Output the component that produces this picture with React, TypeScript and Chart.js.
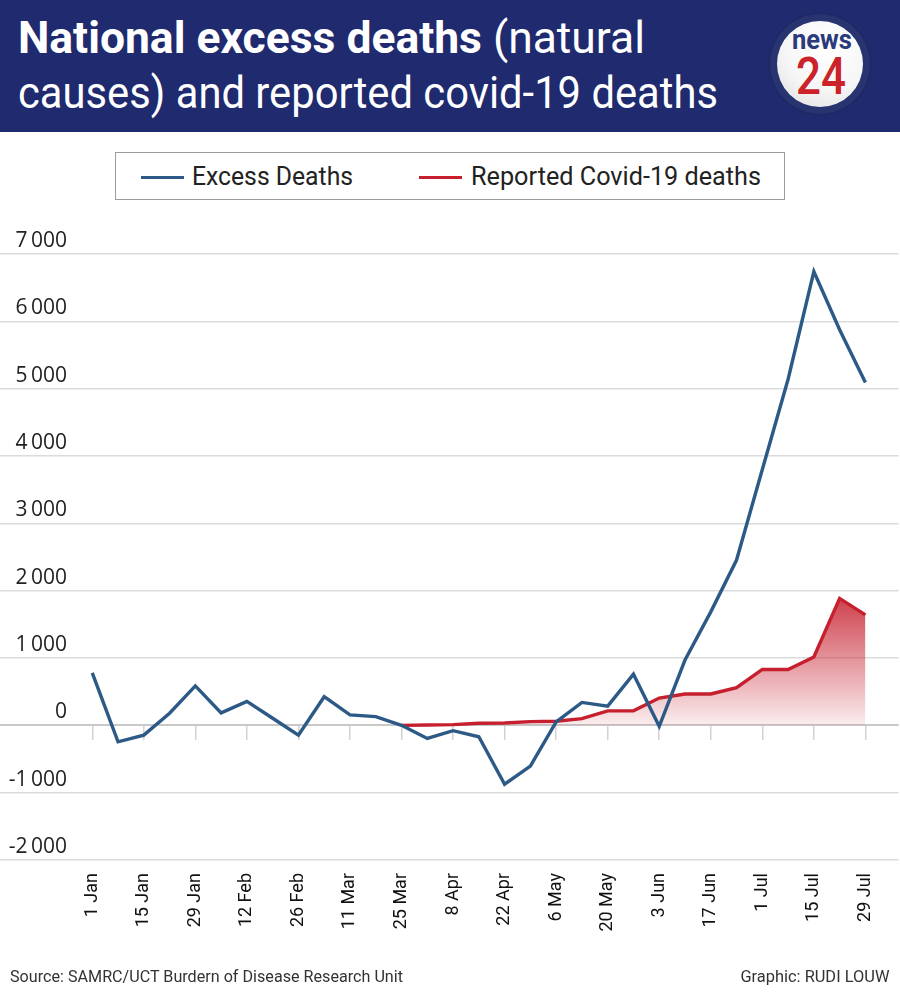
import React, { useEffect, useLayoutEffect, useRef } from 'react';
import { Chart, registerables } from 'chart.js';

Chart.register(...registerables);

// ---------- data ----------
const weeks = [
  '1 Jan', '8 Jan', '15 Jan', '22 Jan', '29 Jan', '5 Feb', '12 Feb', '19 Feb', '26 Feb', '4 Mar',
  '11 Mar', '18 Mar', '25 Mar', '1 Apr', '8 Apr', '15 Apr', '22 Apr', '29 Apr', '6 May', '13 May',
  '20 May', '27 May', '3 Jun', '10 Jun', '17 Jun', '24 Jun', '1 Jul', '8 Jul', '15 Jul', '22 Jul', '29 Jul',
];

const excessDeaths = [
  780, -245, -145, 180, 585, 185, 355, 105, -145, 425,
  155, 130, 0, -195, -80, -170, -875, -605, 50, 340,
  285, 760, -15, 970, 1685, 2455, 3800, 5140, 6740, 5875, 5090,
];

const covidDeaths: (number | null)[] = [
  null, null, null, null, null, null, null, null, null, null,
  null, null, 0, 5, 10, 30, 35, 55, 60, 100,
  215, 215, 405, 465, 465, 560, 830, 830, 1015, 1885, 1640,
];

const yTickValues = [-2000, -1000, 0, 1000, 2000, 3000, 4000, 5000, 6000, 7000];

const seriesNames = ['Excess Deaths', 'Reported Covid-19 deaths'];

// ---------- style ----------
const NAVY = '#1f2a6f';
const BLUE = '#2c5985';
const RED = '#c61f2d';
const X_MIN = -0.8639;
const X_MAX = 31.29;

const fmt = (v: number) => {
  const s = Math.abs(v).toString().replace(/\B(?=(\d{3})+(?!\d))/g, '\u2009');
  return (v < 0 ? '-' : '') + s;
};

function FitText({
  width,
  left,
  right,
  top,
  style,
  children,
}: {
  width: number;
  left?: number;
  right?: number;
  top: number;
  style?: React.CSSProperties;
  children: React.ReactNode;
}) {
  const ref = useRef<HTMLSpanElement>(null);
  useLayoutEffect(() => {
    const el = ref.current;
    if (!el) return;
    el.style.transform = 'none';
    const w = el.getBoundingClientRect().width;
    if (w > 0) el.style.transform = `scaleX(${width / w})`;
  });
  return (
    <span
      ref={ref}
      style={{
        position: 'absolute',
        left,
        right,
        top,
        display: 'inline-block',
        whiteSpace: 'nowrap',
        transformOrigin: right !== undefined ? 'right center' : 'left center',
        ...style,
      }}
    >
      {children}
    </span>
  );
}

function LineChart() {
  const canvasRef = useRef<HTMLCanvasElement>(null);
  useEffect(() => {
    const canvas = canvasRef.current;
    if (!canvas) return;
    const evenTicks = (scale: any) => {
      scale.ticks = weeks.map((_, i) => ({ value: i })).filter((t) => t.value % 2 === 0);
    };
    const chart = new Chart(canvas, {
      type: 'line',
      data: {
        datasets: [
          {
            label: seriesNames[0],
            data: excessDeaths.map((y, i) => ({ x: i, y })),
            borderColor: BLUE,
            borderWidth: 3.4,
            pointRadius: 0,
            tension: 0,
            fill: false,
            borderJoinStyle: 'miter',
          },
          {
            label: seriesNames[1],
            data: covidDeaths.map((y, i) => ({ x: i, y })),
            borderColor: RED,
            borderWidth: 3.4,
            pointRadius: 0,
            tension: 0,
            fill: 'origin',
            spanGaps: false,
            backgroundColor: (ctx: any) => {
              const ch = ctx.chart;
              const { chartArea, scales } = ch;
              if (!chartArea || !scales.y) return 'rgba(198,31,45,0.5)';
              const g = ch.ctx.createLinearGradient(0, scales.y.getPixelForValue(1900), 0, scales.y.getPixelForValue(0));
              g.addColorStop(0, 'rgba(198,31,45,0.85)');
              g.addColorStop(1, 'rgba(198,31,45,0.08)');
              return g;
            },
          },
        ],
      },
      options: {
        responsive: false,
        animation: false,
        events: [],
        layout: { padding: { top: 122, right: 0, bottom: 0, left: 0 } },
        plugins: { legend: { display: false }, tooltip: { enabled: false } },
        scales: {
          x: {
            type: 'linear',
            min: X_MIN,
            max: X_MAX,
            bounds: 'data',
            afterBuildTicks: evenTicks,
            afterFit: (s: any) => {
              s.height = 132;
            },
            grid: { display: false, drawTicks: false },
            border: { display: false },
            ticks: {
              autoSkip: false,
              minRotation: 90,
              maxRotation: 90,
              padding: 13,
              color: '#111',
              font: { family: 'Roboto', size: 18 },
              callback: (v: any) => weeks[Number(v)],
            },
          },
          x2: {
            type: 'linear',
            min: X_MIN,
            max: X_MAX,
            bounds: 'data',
            position: { y: 0 },
            afterBuildTicks: evenTicks,
            grid: {
              drawOnChartArea: false,
              drawTicks: true,
              tickLength: 15,
              color: '#d2d2d2',
              lineWidth: 1.5,
            },
            border: { display: false },
            ticks: { display: false },
          },
          y: {
            min: -2000,
            max: 7000,
            bounds: 'data',
            afterBuildTicks: (s: any) => {
              s.ticks = yTickValues.map((v) => ({ value: v }));
            },
            afterFit: (s: any) => {
              s.width = 70;
            },
            grid: {
              drawTicks: true,
              tickLength: 70,
              color: (c: any) => (c.tick && c.tick.value === 0 ? '#c8c8c8' : '#dcdcdc'),
              lineWidth: (c: any) => (c.tick && c.tick.value === 0 ? 2 : 1.5),
            },
            border: { display: false },
            ticks: {
              padding: -67,
              labelOffset: -13,
              color: '#222',
              font: { family: 'Open Sans', size: 21 },
              callback: (v: any) => fmt(Number(v)),
            },
          },
        },
      },
    } as any);
    return () => chart.destroy();
  }, []);
  return (
    <canvas
      ref={canvasRef}
      width={900}
      height={860}
      style={{ position: 'absolute', left: 0, top: 132, width: 900, height: 860 }}
    />
  );
}

export default function App() {
  return (
    <div
      style={{
        position: 'absolute',
        left: 0,
        top: 0,
        width: 900,
        height: 992,
        background: '#fff',
        overflow: 'hidden',
        fontFamily: 'Roboto, sans-serif',
      }}
    >
      <LineChart />
      {/* header */}
      <div style={{ position: 'absolute', left: 0, top: 0, width: 900, height: 132, background: NAVY }}>
        <FitText width={627} left={18} top={16} style={{ color: '#fff', fontSize: 44, lineHeight: '44px' }}>
          <span style={{ fontWeight: 700 }}>National excess deaths</span>
          <span style={{ fontWeight: 400 }}> (natural</span>
        </FitText>
        <FitText width={700} left={18} top={71} style={{ color: '#fff', fontSize: 44, lineHeight: '44px' }}>
          causes) and reported covid-19 deaths
        </FitText>
        {/* logo */}
        <div
          style={{
            position: 'absolute',
            left: 770,
            top: 14,
            width: 100,
            height: 100,
            borderRadius: '50%',
            background: '#283470',
            boxShadow: '0 0 2px rgba(0,0,0,0.25)',
          }}
        />
        <div
          style={{
            position: 'absolute',
            left: 777,
            top: 21,
            width: 86,
            height: 86,
            borderRadius: '50%',
            background: 'radial-gradient(circle at 60% 30%, #ffffff 0%, #f6f6f6 55%, #dcdcde 100%)',
          }}
        />
        <FitText width={60} left={792} top={26} style={{ color: '#2a3a7a', fontSize: 28, lineHeight: '28px', fontWeight: 700 }}>
          news
        </FitText>
        <FitText width={50} left={796} top={51} style={{ color: '#cc2229', fontSize: 51, lineHeight: '51px', fontWeight: 500 }}>
          24
        </FitText>
      </div>
      {/* legend */}
      <div
        style={{
          position: 'absolute',
          left: 115,
          top: 152,
          width: 670,
          height: 48,
          boxSizing: 'border-box',
          border: '1.5px solid #9c9c9c',
          background: '#fff',
        }}
      />
      <div style={{ position: 'absolute', left: 141, top: 175.5, width: 43, height: 3.2, background: BLUE }} />
      <FitText width={161} left={192} top={163} style={{ color: '#222', fontSize: 26, lineHeight: '26px' }}>
        {seriesNames[0]}
      </FitText>
      <div style={{ position: 'absolute', left: 419, top: 175.5, width: 43, height: 3.2, background: RED }} />
      <FitText width={290} left={471} top={163} style={{ color: '#222', fontSize: 26, lineHeight: '26px' }}>
        {seriesNames[1]}
      </FitText>
      {/* footer */}
      <FitText width={393} left={10} top={968} style={{ color: '#333', fontSize: 17, lineHeight: '17px' }}>
        Source: SAMRC/UCT Burdern of Disease Research Unit
      </FitText>
      <FitText width={149} right={11} top={968} style={{ color: '#333', fontSize: 17, lineHeight: '17px' }}>
        Graphic: RUDI LOUW
      </FitText>
    </div>
  );
}
